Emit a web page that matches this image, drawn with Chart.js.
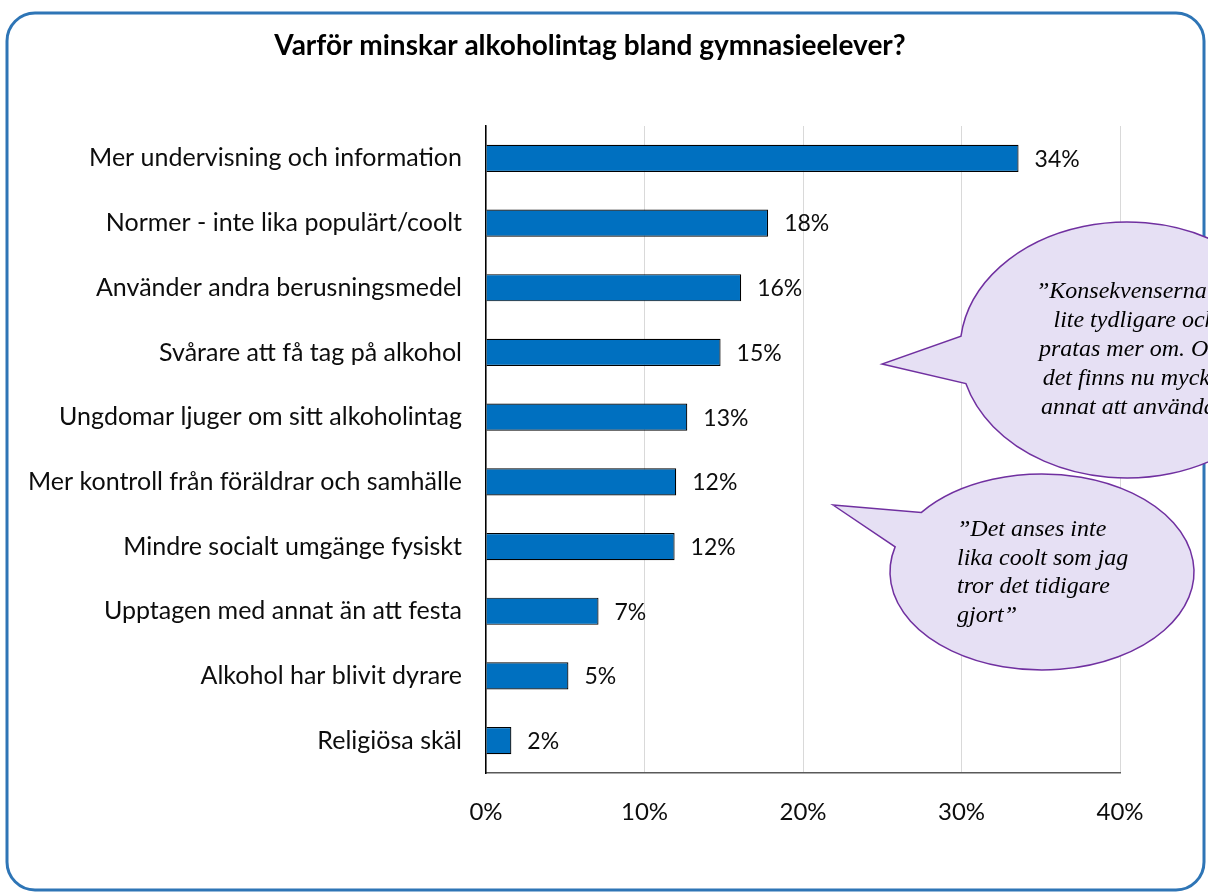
<!DOCTYPE html>
<html lang="sv">
<head>
<meta charset="utf-8">
<title>Varför minskar alkoholintag bland gymnasieelever?</title>
<script src="https://cdn.jsdelivr.net/npm/chart.js@4"></script>
<style>
  html, body { margin: 0; padding: 0; background: #fff; }
  canvas { display: block; }
</style>
</head>
<body>
<canvas id="chart" width="1208" height="892"></canvas>
<script>
const title = "Varför minskar alkoholintag bland gymnasieelever?";
const categories = [
  "Mer undervisning och information",
  "Normer - inte lika populärt/coolt",
  "Använder andra berusningsmedel",
  "Svårare att få tag på alkohol",
  "Ungdomar ljuger om sitt alkoholintag",
  "Mer kontroll från föräldrar och samhälle",
  "Mindre socialt umgänge fysiskt",
  "Upptagen med annat än att festa",
  "Alkohol har blivit dyrare",
  "Religiösa skäl"
];
const values = [33.6, 17.8, 16.1, 14.8, 12.7, 12.0, 11.9, 7.1, 5.2, 1.6];
const tickLabels = ["0%", "10%", "20%", "30%", "40%"];
const quote1 = [
  "\u201DKonsekvenserna är",
  "lite tydligare och",
  "pratas mer om. Och",
  "det finns nu mycket",
  "annat att använda\u201D"
];
const quote2 = [
  "\u201DDet anses inte",
  "lika coolt som jag",
  "tror det tidigare",
  "gjort\u201D"
];

const sans = "Lato, 'Open Sans', sans-serif";
const serif = "'Liberation Serif', 'DejaVu Serif', serif";

// ram + rubrik bakom diagrammet
const frame = {
  id: "frame",
  beforeDraw(chart) {
    const c = chart.ctx;
    c.save();
    c.fillStyle = "#fff";
    c.fillRect(0, 0, chart.width, chart.height);
    c.strokeStyle = "#2E75B6";
    c.lineWidth = 3;
    c.beginPath();
    c.roundRect(7, 13, 1197, 877, 28);
    c.stroke();
    c.fillStyle = "#000";
    c.font = "bold 28px " + sans;
    c.textAlign = "center";
    c.textBaseline = "middle";
    c.fillText(title, 590, 46);
    c.restore();
  }
};

// procentetiketter till höger om staplarna
const barLabels = {
  id: "barLabels",
  afterDatasetsDraw(chart) {
    const c = chart.ctx;
    const meta = chart.getDatasetMeta(0);
    c.save();
    c.fillStyle = "#0d0d0d";
    c.font = "23px " + sans;
    c.textAlign = "left";
    c.textBaseline = "middle";
    meta.data.forEach((bar, i) => {
      c.fillText(Math.round(values[i]) + "%", bar.x + 16, bar.y + 1);
    });
    c.restore();
  }
};

function bubble(c, cx, cy, rx, ry, tip, upper, lower) {
  const ang = (p) => Math.atan2((p[1] - cy) / ry, (p[0] - cx) / rx);
  c.beginPath();
  c.moveTo(tip[0], tip[1]);
  c.ellipse(cx, cy, rx, ry, 0, ang(lower), ang(upper), true);
  c.closePath();
  c.fillStyle = "#E6E0F4";
  c.fill();
  c.strokeStyle = "#7030A0";
  c.lineWidth = 1.5;
  c.stroke();
}

// pratbubblor med citat
const bubbles = {
  id: "bubbles",
  afterDraw(chart) {
    const c = chart.ctx;
    c.save();
    bubble(c, 1127, 350, 167, 128, [882, 364], [959, 336], [964, 384]);
    bubble(c, 1042, 572, 152, 98, [833, 505], [922, 513], [896, 547]);
    c.fillStyle = "#000";
    c.font = "italic 24px " + serif;
    c.textBaseline = "middle";
    c.textAlign = "center";
    quote1.forEach((t, i) => c.fillText(t, 1135, 292 + i * 29));
    c.textAlign = "left";
    quote2.forEach((t, i) => c.fillText(t, 957, 530 + i * 28.5));
    c.restore();
  }
};

new Chart(document.getElementById("chart"), {
  type: "bar",
  data: {
    labels: categories,
    datasets: [{
      data: values,
      backgroundColor: "#0070C0",
      borderColor: "#000",
      borderWidth: 1.2,
      barPercentage: 0.42,
      categoryPercentage: 1
    }]
  },
  options: {
    indexAxis: "y",
    responsive: false,
    animation: false,
    devicePixelRatio: 1,
    layout: { padding: { top: 126, right: 88, left: 0, bottom: 0 } },
    plugins: {
      legend: { display: false },
      tooltip: { enabled: false }
    },
    scales: {
      x: {
        min: 0,
        max: 40,
        ticks: {
          stepSize: 10,
          padding: 25,
          color: "#0d0d0d",
          font: { family: sans, size: 24 },
          callback: (v, i) => tickLabels[i]
        },
        grid: { color: "#D9D9D9", lineWidth: 1, drawTicks: false },
        border: { color: "#595959", width: 1.5 },
        afterFit: (s) => { s.height = 892 - 773; }
      },
      y: {
        ticks: {
          padding: 24,
          color: "#0d0d0d",
          font: { family: sans, size: 25 }
        },
        grid: { display: false, drawTicks: false },
        border: { color: "#000", width: 1.5 },
        afterFit: (s) => { s.width = 486; }
      }
    }
  },
  plugins: [frame, barLabels, bubbles]
});
</script>
</body>
</html>
